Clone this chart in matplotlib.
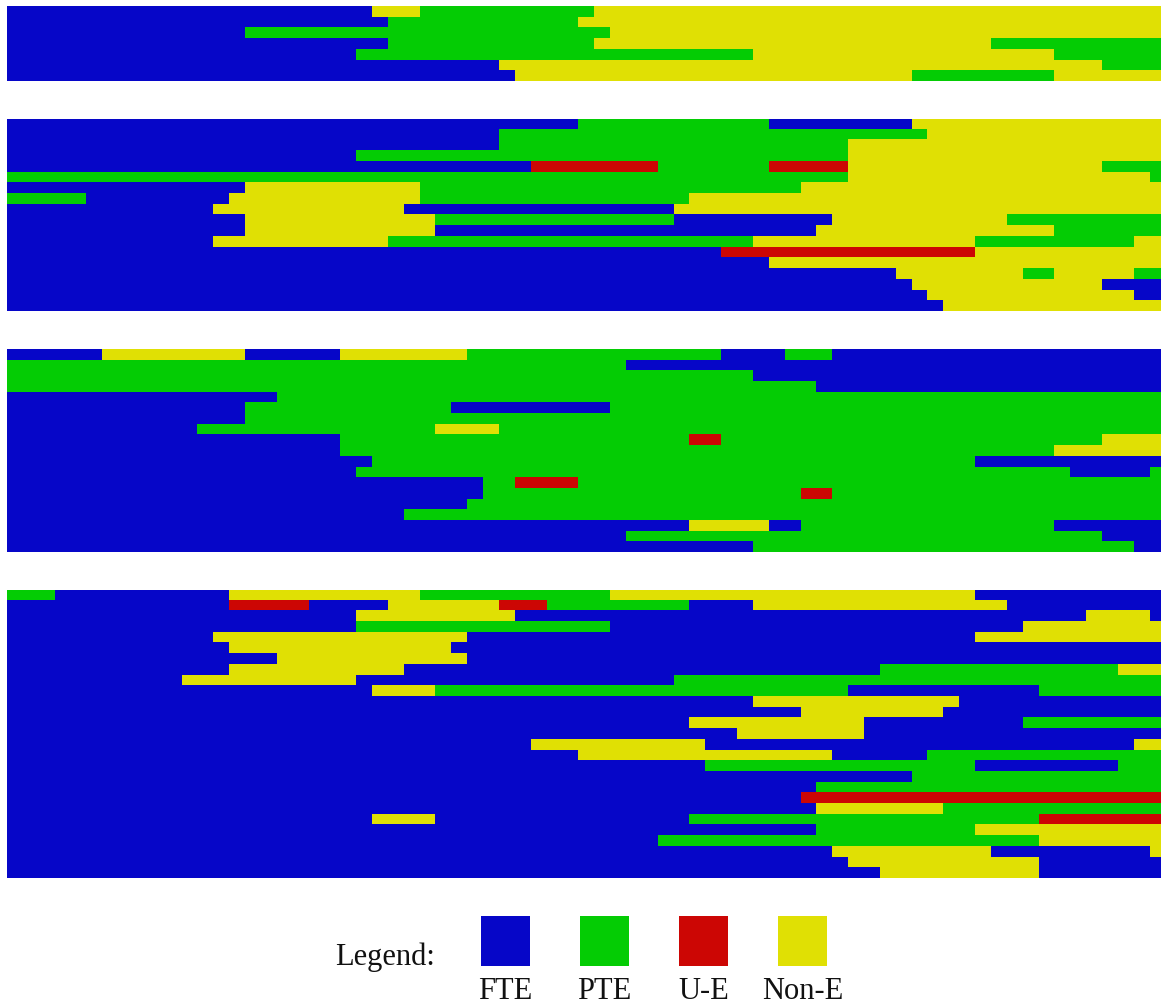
import numpy as np
import matplotlib
matplotlib.use("Agg")
import matplotlib.pyplot as plt
from matplotlib.colors import ListedColormap
from matplotlib.patches import Rectangle

# employment states, in legend order
states = ["F", "P", "U", "N"]
state_labels = ["FTE", "PTE", "U-E", "Non-E"]
state_colors = ["#0606c8", "#04cc04", "#cc0604", "#e0e004"]

n_months = 73

# each sequence: state code followed by the month where that spell ends
panel1 = [
    "F23 N26 P37 N73",
    "F24 P36 N73",
    "F15 P38 N73",
    "F24 P37 N62 P73",
    "F22 P47 N66 P73",
    "F31 N69 P73",
    "F32 N57 P66 N73",
]

panel2 = [
    "F36 P48 F57 N73",
    "F31 P58 N73",
    "F31 P53 N73",
    "F22 P53 N73",
    "F33 U41 P48 U53 N69 P73",
    "P53 N72 P73",
    "F15 N26 P50 N73",
    "P5 F14 N26 P43 N73",
    "F13 N25 F42 N73",
    "F15 N27 P42 F52 N63 P73",
    "F15 N27 F51 N66 P73",
    "F13 N24 P47 N61 P71 N73",
    "F45 U61 N73",
    "F48 N73",
    "F56 N64 P66 N71 P73",
    "F57 N69 F73",
    "F58 N71 F73",
    "F59 N73",
]

panel3 = [
    "F6 N15 F21 N29 P45 F49 P52 F73",
    "P39 F73",
    "P47 F73",
    "P51 F73",
    "F17 P73",
    "F15 P28 F38 P73",
    "F15 P73",
    "F12 P27 N31 P73",
    "F21 P43 U45 P69 N73",
    "F21 P66 N73",
    "F23 P61 F73",
    "F22 P67 F72 P73",
    "F30 P32 U36 P73",
    "F30 P50 U52 P73",
    "F29 P73",
    "F25 P73",
    "F43 N48 F50 P66 F73",
    "F39 P69 F73",
    "F47 P71 F73",
]

panel4 = [
    "P3 F14 N26 P38 N61 F73",
    "F14 U19 F24 N31 U34 P43 F47 N63 F73",
    "F22 N32 F68 N72 F73",
    "F22 P38 F64 N73",
    "F13 N29 F61 N73",
    "F14 N28 F73",
    "F17 N29 F73",
    "F14 N25 F55 P70 N73",
    "F11 N22 F42 P73",
    "F23 N27 P53 F65 P73",
    "F47 N60 F73",
    "F50 N59 F73",
    "F43 N54 F64 P73",
    "F46 N54 F73",
    "F33 N44 F71 N73",
    "F36 N52 F58 P73",
    "F44 P61 F70 P73",
    "F57 P73",
    "F51 P73",
    "F50 U73",
    "F51 N59 P73",
    "F23 N27 F43 P65 U73",
    "F51 P61 N73",
    "F41 P65 N73",
    "F52 N62 F72 N73",
    "F53 N65 F73",
    "F55 N65 F73",
]

panels = [panel1, panel2, panel3, panel4]


def to_matrix(rows):
    mat = np.zeros((len(rows), n_months), dtype=int)
    for i, row in enumerate(rows):
        start = 0
        for spell in row.split():
            end = int(spell[1:])
            mat[i, start:end] = states.index(spell[0])
            start = end
    return mat


W, H = 1161, 1005
fig = plt.figure(figsize=(W / 100, H / 100), dpi=100)
cmap = ListedColormap(state_colors)

row_h = 10.68
gap = 38
left_px = 7
top_px = 6
for rows in panels:
    mat = to_matrix(rows)
    h = len(rows) * row_h
    ax = fig.add_axes([left_px / W, 1 - (top_px + h) / H, (W - left_px) / W, h / H])
    ax.imshow(mat, cmap=cmap, vmin=-0.5, vmax=len(states) - 0.5, aspect="auto",
              interpolation="nearest", extent=(0, n_months, len(rows), 0))
    ax.set_xlim(0, (W - left_px) / 15.87)
    ax.set_ylim(len(rows), 0)
    ax.axis("off")
    top_px += h + gap

# legend row drawn in pixel coordinates
lg = fig.add_axes([0, 0, 1, 1], zorder=5)
lg.set_xlim(0, W)
lg.set_ylim(H, 0)
lg.axis("off")
lg.patch.set_alpha(0)

font = dict(family=["Liberation Serif", "DejaVu Serif"], size=22, color="#111111")
lg.text(435, 965, "Legend:", ha="right", va="baseline", **font)
for i, (lab, col) in enumerate(zip(state_labels, state_colors)):
    x0 = 481 + i * 99
    lg.add_patch(Rectangle((x0, 916), 49, 50, facecolor=col, edgecolor="none"))
    lg.text(x0 + 24.5, 999, lab, ha="center", va="baseline", **font)

fig.savefig("out.png", dpi=100)
